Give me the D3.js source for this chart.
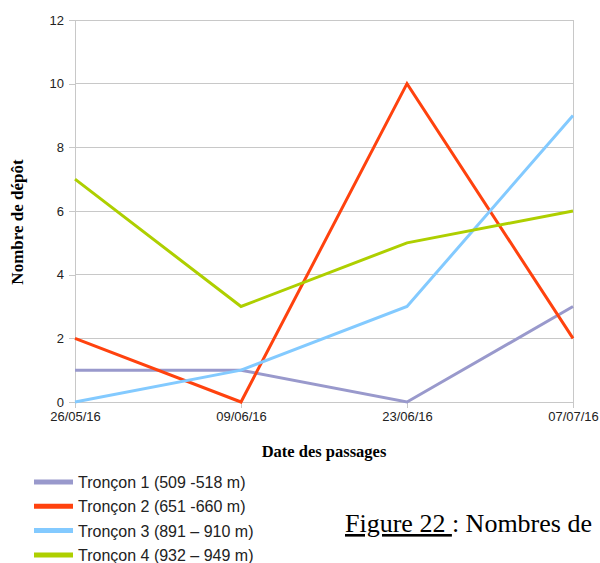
<!DOCTYPE html>
<html><head><meta charset="utf-8">
<script src="https://cdn.jsdelivr.net/npm/d3@7"></script>
<style>body{margin:0;background:#fff}svg{display:block}</style>
</head><body>
<svg id="c" width="600" height="563"></svg>
<script>
const dates = ["26/05/16","09/06/16","23/06/16","07/07/16"];
const seriesNames = ["Tronçon 1 (509 -518 m)","Tronçon 2 (651 -660 m)","Tronçon 3 (891 – 910 m)","Tronçon 4 (932 – 949 m)"];
const troncon1 = [1,1,0,3];
const troncon2 = [2,0,10,2];
const troncon3 = [0,1,3,9];
const troncon4 = [7,3,5,6];
const yTicks = [0,2,4,6,8,10,12];
const colors = ["#9999cc","#ff420e","#83caff","#aecf00"];
const series = [troncon1, troncon2, troncon3, troncon4];

const svg = d3.select("#c");
const L=75, R=573, T=20, B=402;
const x = d3.scalePoint().domain(dates).range([L,R]);
const y = d3.scaleLinear().domain([0,12]).range([B,T]);

svg.append("g").selectAll("line").data(yTicks).join("line")
  .attr("x1",L).attr("x2",R).attr("y1",d=>y(d)).attr("y2",d=>y(d))
  .attr("stroke","#c8c8c8").attr("stroke-width",1).attr("shape-rendering","crispEdges");
svg.append("line").attr("x1",R).attr("x2",R).attr("y1",T).attr("y2",B)
  .attr("stroke","#c8c8c8").attr("shape-rendering","crispEdges");

const yAxis = svg.append("g").attr("transform",`translate(${L},0)`)
  .call(d3.axisLeft(y).tickValues(yTicks).tickSize(6).tickPadding(5));
const xAxis = svg.append("g").attr("transform",`translate(0,${B})`)
  .call(d3.axisBottom(x).tickSize(6).tickPadding(4));
[yAxis,xAxis].forEach(a=>{
  a.selectAll("path,line").attr("stroke","#c8c8c8").attr("shape-rendering","crispEdges");
  a.selectAll("text").attr("font-family","'Liberation Sans', Arial, sans-serif").attr("font-size",13).attr("fill","#222");
});

const line = d3.line().x((d,i)=>x(dates[i])).y(d=>y(d));
series.forEach((s,i)=>{
  svg.append("path").datum(s).attr("d",line).attr("fill","none")
    .attr("stroke",colors[i]).attr("stroke-width",3).attr("stroke-linejoin","miter");
});

svg.append("text").attr("transform","translate(23,222) rotate(-90)")
  .attr("text-anchor","middle").attr("font-family","'Liberation Serif', 'Times New Roman', serif")
  .attr("font-weight","bold").attr("font-size",17).text("Nombre de dépôt");
svg.append("text").attr("x",324).attr("y",457)
  .attr("text-anchor","middle").attr("font-family","'Liberation Serif', 'Times New Roman', serif")
  .attr("font-weight","bold").attr("font-size",16.5).text("Date des passages");

const lg = svg.append("g");
seriesNames.forEach((n,i)=>{
  const yy = 482 + i*24.3;
  lg.append("line").attr("x1",34).attr("x2",73).attr("y1",yy).attr("y2",yy)
    .attr("stroke",colors[i]).attr("stroke-width",5);
  lg.append("text").attr("x",78).attr("y",yy+6).attr("font-family","'Liberation Sans', Arial, sans-serif")
    .attr("font-size",16).attr("fill","#222").text(n);
});

const cap = svg.append("text").attr("x",345).attr("y",532)
  .attr("font-family","'Liberation Serif', 'Times New Roman', serif").attr("font-size",26).attr("fill","#000");
cap.append("tspan").attr("text-decoration","underline").text("Figure 22 ");
cap.append("tspan").text(": Nombres de");
</script>
</body></html>
